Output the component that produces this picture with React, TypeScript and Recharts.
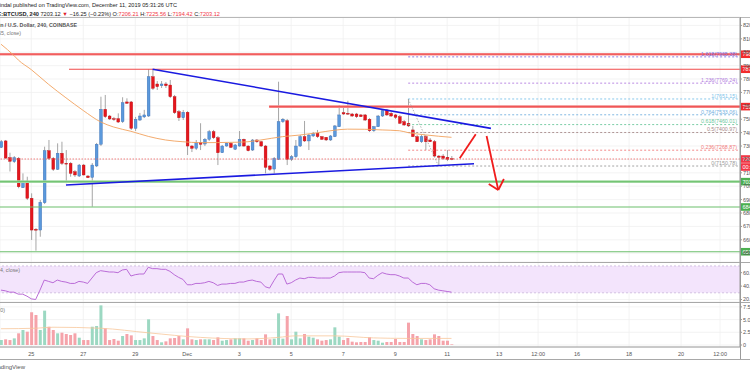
import React from 'react';
import {
  ComposedChart, Bar, Line, XAxis, YAxis, CartesianGrid,
  ReferenceLine, ReferenceArea, ReferenceDot, Cell,
} from 'recharts';

// ---------- data (4h candles, BTCUSD, Coinbase) ----------
const opens = [7290,7338,7213,7183,7208,6989,7039,6910,6678,6673,6877,7265,7208,7126,7246,7171,7171,7108,7076,7158,7076,7066,7151,7313,7574,7524,7504,7504,7482,7629,7629,7432,7494,7517,7524,7817,7763,7750,7763,7755,7668,7556,7511,7552,7300,7283,7325,7315,7350,7407,7362,7250,7300,7320,7276,7300,7350,7300,7270,7345,7332,7300,7151,7128,7201,7482,7489,7201,7220,7300,7370,7338,7375,7395,7370,7365,7345,7370,7444,7549,7544,7539,7539,7532,7532,7500,7414,7444,7524,7569,7544,7532,7519,7482,7470,7420,7370,7332,7370,7345,7332,7225,7225,7216,7206.21];
const highs = [7345,7345,7250,7225,7218,7096,7071,6947,6688,6897,7295,7345,7218,7320,7332,7270,7181,7121,7166,7166,7084,7173,7323,7668,7681,7532,7517,7544,7664,7656,7636,7517,7547,7570,7873,7867,7785,7785,7778,7793,7681,7569,7569,7561,7308,7345,7470,7360,7420,7420,7375,7308,7325,7330,7315,7412,7355,7305,7352,7352,7338,7308,7158,7218,7780,7509,7502,7233,7345,7382,7487,7390,7405,7420,7375,7367,7382,7457,7606,7593,7638,7547,7547,7539,7539,7509,7450,7532,7576,7576,7554,7539,7532,7494,7651.15,7450,7382,7382,7382,7360,7345,7233,7240,7270,7225.56];
const lows = [7285,7205,7110,7173,6985,6987,6897,6599,6519,6623,6867,7196,7114,7121,7158,7022,7071,7069,7069,7080,7061,6847,7143,7300,7509,7494,7487,7472,7472,7614,7420,7412,7487,7509,7517,7718,7718,7733,7733,7658,7539,7487,7494,7233,7255,7270,7270,7300,7338,7352,7158,7248,7295,7285,7270,7295,7295,7260,7263,7323,7293,7096,7114,7096,7196,7472,7158,7188,7210,7293,7330,7270,7367,7360,7345,7338,7338,7367,7442,7532,7532,7517,7509,7517,7487,7405,7405,7442,7517,7524,7517,7502,7464,7450,7442,7367,7330,7323,7270,7330,7218,7150.78,7196,7188,7194.42];
const closes = [7332,7210,7186,7213,6996,7039,6910,6673,6676,6880,7265,7208,7126,7246,7171,7170,7096,7084,7158,7084,7064,7158,7313,7574,7519,7502,7499,7479,7623,7619,7432,7500,7524,7532,7817,7731,7743,7763,7750,7668,7549,7511,7552,7300,7283,7325,7313,7350,7407,7362,7250,7300,7320,7290,7308,7350,7300,7265,7345,7332,7300,7141,7126,7208,7482,7500,7201,7220,7300,7370,7338,7382,7395,7370,7350,7345,7375,7450,7532,7539,7539,7524,7519,7519,7494,7414,7444,7524,7564,7532,7524,7514,7470,7457,7450,7370,7332,7370,7332,7332,7225,7216,7208,7201,7203.12];
const volumes = [0.98,1.12,0.98,1.31,2.3,2.95,2.62,6.43,5.9,2.95,6.76,3.6,2.95,2.3,2.43,2.17,1.97,2.3,1.44,0.98,0.98,3.6,3.74,7.8,3.28,0.98,1.18,0.85,1.77,2.17,1.9,0.98,0.98,1.31,5.05,1.77,0.98,0.53,0.72,1.31,1.38,1.77,1.12,3.28,1.12,0.98,1.12,1.12,1.12,0.98,1.51,0.85,0.98,1.12,1.31,1.31,1.31,0.85,0.98,1.31,0.98,2.1,1.12,1.25,6.23,1.25,5.7,1.12,2.62,1.31,2.17,1.64,1.44,1.12,0.85,0.98,1.12,3.48,1.64,0.98,1.38,0.66,0.53,0.59,0.59,1.51,0.98,0.85,0.46,0.59,0.59,1.18,0.59,0.59,4.4,2.17,1.77,1.12,0.98,1.12,2.1,1.77,0.85,0.85,0.13];
const rsiValues = [34,33,31,31,28,28,25,21,20,34,49,47,45,49,47,46,44,44,47,46,44,52,60,63,62,61,61,60,64,65,55,57,58,58,68,66,66,65,65,62,57,53,50,42,42,44,44,45,47,45,41,43,43,44,44,46,46,48,49,47,46,39,37,48,58,58,43,45,49,52,51,53,53,52,52,52,52,55,60,61,61,61,61,61,60,52,51,56,60,58,57,57,55,52,52,46,42,44,44,42,36,34,33,32,31];
const emaPoints: [number, number][] = [[0,8060],[3,7975],[4,7942],[7,7870],[11,7760],[15,7660],[19,7565],[23,7480],[26,7442],[30,7410],[34,7372],[38,7345],[42,7332],[46,7325],[54,7328],[57,7332],[60,7345],[65,7370],[69,7382],[73,7399],[77,7418],[80,7426],[84,7425],[88,7420],[92,7414],[94,7400],[98,7383],[104,7365]];
const volMaPoints: [number, number][] = [[0,3.2],[8,3.3],[12,3.5],[23,3.3],[34,2.4],[46,1.5],[57,1.2],[64,1.5],[68,1.8],[77,1.8],[86,1.4],[94,1.3],[104,1.3]];

const xTicks = [7,19,31,43,55,67,79,91,103,115,124,133,145,157,166];
const xTickLabels = ['25','27','29','Dec','3','5','7','9','11','13','12:00','16','18','20','12:00'];
const priceTicks = [6500,6600,6700,6800,6900,7000,7100,7200,7300,7400,7500,7600,7700,7800,7900,8000,8100,8200];
const rsiTicks = [20,40,60];
const volTicks = [0,2.5,5,7.5];

const fibRatios = ['1.618','1.236','1','0.764','0.618','0.5','0.236','0'];
const fibValues = [7965.38,7769.24,7651.15,7533.06,7460.01,7400.97,7268.87,7150.78];
const fibStart = 94;
const fibEnd = 170.1;
const fibDiagonal: [number, number][] = [[94,7651.15],[101,7150.78]];

const resistanceValues = [7985, 7873, 7594];
const resistanceStarts = [-0.224, 15.7, 61.9];
const supportValues = [7034, 6845, 6511];
const lastPrice = 7203.12;

const upperTrend: [number, number][] = [[35.0,7873],[113.1,7432]];
const lowerTrend: [number, number][] = [[15.0,7009],[109.2,7168]];
const arrowStrokes: [number, number][][] = [
  [[105.9,7208],[109.6,7387]],
  [[112.1,7375],[114.8,6972]],
  [[112.6,7017],[114.8,6972]],
  [[116.1,7054],[114.8,6972]],
];

// ---------- styles ----------
const X0 = -0.224;
const X1 = 170.6;
const PRICE_DOMAIN = [6434.5, 8262.9];
const FONT = '"Liberation Sans", Arial, Helvetica, sans-serif';
const fibColors = ['#7d6fe3','#b27de0','#7cc3ea','#73b0df','#6cc79c','#a88b8b','#f27b7b','#9a9a9a'];
const UP = '#5b99dc';
const DOWN = '#e5161d';
const GRID = '#f0f0f0';

const rows = opens.map((o, i) => ({
  i,
  o,
  h: highs[i],
  l: lows[i],
  c: closes[i],
  range: [lows[i], highs[i]],
  v: volumes[i],
  rsi: rsiValues[i],
  ema: null as number | null,
  vma: null as number | null,
}));
emaPoints.forEach(([i, v]) => { rows[i].ema = v; });
volMaPoints.forEach(([i, v]) => { rows[i].vma = v; });

const Candle = (props: any) => {
  const { x, y, width, height, payload } = props;
  if (!payload || x == null) return null;
  const { o, h, l, c } = payload;
  const cx = x + width / 2;
  const span = h - l || 1;
  const py = (v: number) => y + ((h - v) / span) * height;
  const up = c >= o;
  const top = py(Math.max(o, c));
  const bot = py(Math.min(o, c));
  return (
    <g>
      <line x1={cx} x2={cx} y1={y} y2={y + height} stroke="#8f8f8f" strokeWidth={0.8} />
      <rect
        x={cx - 1.4}
        y={top}
        width={2.8}
        height={Math.max(bot - top, 0.8)}
        fill={up ? UP : DOWN}
        stroke={up ? '#3a6db3' : '#b80d12'}
        strokeWidth={0.4}
      />
    </g>
  );
};

const tagShape = (text: string, bg: string, extra?: string) => (p: any) => (
  <g>
    <rect x={p.cx + 1} y={p.cy - 3.8} width={40} height={7.6} fill={bg} />
    <text x={p.cx + 2.5} y={p.cy + 2} fontSize={5.5} fill="#fff" fontFamily={FONT}>{text}</text>
    {extra ? (
      <g>
        <rect x={p.cx + 1} y={p.cy + 4.2} width={40} height={7.6} fill={bg} />
        <text x={p.cx + 2.5} y={p.cy + 10} fontSize={5.5} fill="#fff" fontFamily={FONT}>{extra}</text>
      </g>
    ) : null}
  </g>
);

const fibLabelShape = (text: string, color: string) => (p: any) => (
  <text x={p.cx} y={p.cy - 1.2} fontSize={5.3} fill={color} textAnchor="end" fontFamily={FONT}>{text}</text>
);

const tickStyle = { fontSize: 5.5, fill: '#555', fontFamily: FONT };
const fmtX = (v: number) => {
  const k = xTicks.indexOf(v);
  return k >= 0 ? xTickLabels[k] : '';
};

export default function App() {
  return (
    <div style={{ position: 'fixed', left: 0, top: 0, width: 750, height: 375, overflow: 'hidden', background: '#fff', fontFamily: FONT }}>
      {/* main price pane */}
      <div style={{ position: 'absolute', left: 0, top: 0 }}>
        <ComposedChart width={800} height={262} data={rows} margin={{ top: 17, right: 0, bottom: 0, left: 0 }}>
          <CartesianGrid stroke={GRID} strokeWidth={0.8} />
          <XAxis type="number" dataKey="i" domain={[X0, X1]} ticks={xTicks} hide allowDataOverflow />
          <YAxis
            orientation="right" type="number" domain={PRICE_DOMAIN} ticks={priceTicks} width={60}
            allowDataOverflow tick={tickStyle} tickSize={2} tickMargin={1}
            tickFormatter={(v: number) => v.toFixed(2)} stroke="#9a9a9a" interval={0}
          />
          {supportValues.map((v, k) => (
            <ReferenceLine key={'s' + k} y={v} stroke={k === 0 ? '#a8dca8' : '#6cbf6c'} strokeWidth={k === 0 ? 2.6 : 1.2} />
          ))}
          <ReferenceLine y={supportValues[0]} stroke="#5cb85c" strokeWidth={0.8} />
          {resistanceValues.map((v, k) => (
            <ReferenceLine
              key={'r' + k}
              segment={[{ x: resistanceStarts[k], y: v }, { x: X1, y: v }]}
              stroke={k === 1 ? '#f04a4a' : '#f58a8a'}
              strokeWidth={k === 1 ? 1.2 : 2.6}
              ifOverflow="visible"
            />
          ))}
          {[0, 2].map((k) => (
            <ReferenceLine key={'rc' + k} segment={[{ x: resistanceStarts[k], y: resistanceValues[k] }, { x: X1, y: resistanceValues[k] }]} stroke="#ee4040" strokeWidth={0.8} ifOverflow="visible" />
          ))}
          <ReferenceLine y={lastPrice} stroke="#ef6060" strokeDasharray="1.5 1.5" strokeWidth={0.8} />
          {fibValues.map((v, k) => (
            <ReferenceLine
              key={'f' + k}
              segment={[{ x: fibStart, y: v }, { x: fibEnd, y: v }]}
              stroke={fibColors[k]}
              strokeDasharray="2 2"
              strokeWidth={0.9}
            />
          ))}
          <ReferenceLine
            segment={[{ x: fibDiagonal[0][0], y: fibDiagonal[0][1] }, { x: fibDiagonal[1][0], y: fibDiagonal[1][1] }]}
            stroke="#a0a0a0" strokeDasharray="1.5 1.5" strokeWidth={0.8}
          />
          <Bar dataKey="range" barSize={3} shape={Candle} isAnimationActive={false} />
          <Line dataKey="ema" type="monotone" stroke="#f2a25e" strokeWidth={0.9} dot={false} connectNulls isAnimationActive={false} />
          <ReferenceLine segment={[{ x: upperTrend[0][0], y: upperTrend[0][1] }, { x: upperTrend[1][0], y: upperTrend[1][1] }]} stroke="#1a1ae0" strokeWidth={1.6} />
          <ReferenceLine segment={[{ x: lowerTrend[0][0], y: lowerTrend[0][1] }, { x: lowerTrend[1][0], y: lowerTrend[1][1] }]} stroke="#1a1ae0" strokeWidth={1.6} />
          {arrowStrokes.map((s, k) => (
            <ReferenceLine key={'a' + k} segment={[{ x: s[0][0], y: s[0][1] }, { x: s[1][0], y: s[1][1] }]} stroke="#f01c1c" strokeWidth={1.8} />
          ))}
          {fibValues.map((v, k) => (
            <ReferenceDot
              key={'fl' + k} x={169.9} y={v} r={1} ifOverflow="visible"
              shape={fibLabelShape(`${fibRatios[k]}(${v.toFixed(2)})`, fibColors[k])}
            />
          ))}
          {resistanceValues.map((v, k) => (
            <ReferenceDot key={'rt' + k} x={X1} y={v} r={1} ifOverflow="visible" shape={tagShape(v.toFixed(2), '#f22b2b')} />
          ))}
          <ReferenceDot x={X1} y={lastPrice} r={1} ifOverflow="visible" shape={tagShape(lastPrice.toFixed(2), '#f23645', '00:28:34')} />
          {supportValues.map((v, k) => (
            <ReferenceDot key={'st' + k} x={X1} y={v} r={1} ifOverflow="visible" shape={tagShape(v.toFixed(2), '#4caf50')} />
          ))}
        </ComposedChart>
      </div>

      {/* RSI pane */}
      <div style={{ position: 'absolute', left: 0, top: 262 }}>
        <ComposedChart width={800} height={40} data={rows} margin={{ top: 0, right: 0, bottom: 0, left: 0 }}>
          <CartesianGrid stroke={GRID} strokeWidth={0.8} />
          <XAxis type="number" dataKey="i" domain={[X0, X1]} ticks={xTicks} hide allowDataOverflow />
          <YAxis
            orientation="right" type="number" domain={[16.3, 75.9]} ticks={rsiTicks} width={60}
            allowDataOverflow tick={tickStyle} tickSize={2} tickMargin={1}
            tickFormatter={(v: number) => v.toFixed(2)} stroke="#9a9a9a" interval={0}
          />
          <ReferenceArea y1={30} y2={70} fill="#f3e4fc" fillOpacity={1} stroke="none" />
          <ReferenceLine y={70} stroke="#c9b5da" strokeDasharray="2 2" strokeWidth={0.8} />
          <ReferenceLine y={30} stroke="#c9b5da" strokeDasharray="2 2" strokeWidth={0.8} />
          <Line dataKey="rsi" type="linear" stroke="#b35ed2" strokeWidth={0.9} dot={false} isAnimationActive={false} />
        </ComposedChart>
      </div>

      {/* Volume pane with time axis */}
      <div style={{ position: 'absolute', left: 0, top: 302 }}>
        <ComposedChart width={800} height={57} data={rows} margin={{ top: 0, right: 0, bottom: 0, left: 0 }}>
          <CartesianGrid stroke={GRID} strokeWidth={0.8} />
          <XAxis
            type="number" dataKey="i" domain={[X0, X1]} ticks={xTicks} interval={0} allowDataOverflow
            height={12} tick={tickStyle} tickLine={false} tickSize={3} tickMargin={2}
            tickFormatter={fmtX} stroke="#9a9a9a"
          />
          <YAxis
            orientation="right" type="number" domain={[-0.39, 8.46]} ticks={volTicks} width={60}
            allowDataOverflow tick={tickStyle} tickSize={2} tickMargin={1}
            tickFormatter={(v: number) => (v === 0 ? '0' : v.toFixed(1) + 'K')} stroke="#9a9a9a" interval={0}
          />
          <Bar dataKey="v" barSize={3} isAnimationActive={false}>
            {rows.map((r, k) => (
              <Cell key={k} fill={r.c >= r.o ? '#9cd8c2' : '#f5a3aa'} />
            ))}
          </Bar>
          <Line dataKey="vma" type="monotone" stroke="#f8c79a" strokeWidth={0.8} dot={false} connectNulls isAnimationActive={false} />
        </ComposedChart>
      </div>

      {/* frame lines */}
      <div style={{ position: 'absolute', left: 0, top: 17, width: 750, height: 1, background: '#b8b8b8' }} />
      <div style={{ position: 'absolute', left: 0, top: 262, width: 750, height: 1, background: '#a8a8a8' }} />
      <div style={{ position: 'absolute', left: 0, top: 302, width: 750, height: 1, background: '#a8a8a8' }} />
      <div style={{ position: 'absolute', left: 0, top: 359, width: 750, height: 1, background: '#a8a8a8' }} />
      <div style={{ position: 'absolute', left: 740, top: 17, width: 1, height: 342, background: '#9a9a9a' }} />

      {/* texts */}
      <svg width={750} height={375} style={{ position: 'absolute', left: 0, top: 0, pointerEvents: 'none' }}>
        <text x={177} y={7} fontSize={5.6} fill="#222" textAnchor="end" fontFamily={FONT}>
          aayushjindal published on TradingView.com, December 11, 2019 05:31:26 UTC
        </text>
        <text x={220} y={15.6} fontSize={5.6} fill="#222" textAnchor="end" fontFamily={FONT}>
          <tspan fontWeight="bold">COINBASE:BTCUSD, 240</tspan>
          <tspan> 7203.12 </tspan>
          <tspan fill="#e0202a">▼</tspan>
          <tspan> −16.25 (−0.23%) O:</tspan>
          <tspan fill="#f23645">7206.21</tspan>
          <tspan> H:</tspan>
          <tspan fill="#f23645">7225.56</tspan>
          <tspan> L:</tspan>
          <tspan fill="#f23645">7194.42</tspan>
          <tspan> C:</tspan>
          <tspan fill="#f23645">7203.12</tspan>
        </text>
        <text x={77} y={27} fontSize={5.3} fill="#555" fontWeight="bold" textAnchor="end" fontFamily={FONT}>
          Bitcoin / U.S. Dollar, 240, COINBASE
        </text>
        <text x={21} y={35} fontSize={5.3} fill="#777" textAnchor="end" fontFamily={FONT}>EMA (55, close)</text>
        <text x={20} y={272} fontSize={5.3} fill="#777" textAnchor="end" fontFamily={FONT}>RSI (14, close)</text>
        <text x={5} y={312} fontSize={5.3} fill="#777" textAnchor="end" fontFamily={FONT}>Volume (20)</text>
        <text x={25} y={369} fontSize={6} fill="#555" textAnchor="end" fontFamily={FONT}>TradingView</text>
      </svg>
    </div>
  );
}
